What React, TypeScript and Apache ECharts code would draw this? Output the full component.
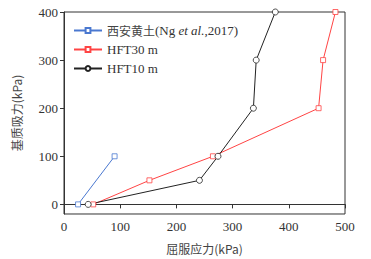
import React, { useEffect, useRef } from "react";
import * as echarts from "echarts";

const seriesNames = ["西安黄土(Ng et al.,2017)", "HFT30 m", "HFT10 m"];
const xianX = [25, 90];
const xianY = [0, 100];
const hft30X = [52, 152, 265, 453, 461, 483];
const hft30Y = [0, 50, 100, 200, 300, 400];
const hft10X = [43, 241, 274, 337, 342, 376];
const hft10Y = [0, 50, 100, 200, 300, 400];
const yTicks = [0, 100, 200, 300, 400];

const zip = (a: number[], b: number[]) => a.map((v, i) => [v, b[i]]);

export default function App() {
  const ref = useRef<HTMLDivElement>(null);
  useEffect(() => {
    document.body.style.margin = "0";
    const chart = echarts.init(ref.current!, undefined, { renderer: "svg" });
    const font = "Liberation Serif";
    const cjk = "Noto Sans CJK SC";
    chart.setOption({
      animation: false,
      textStyle: { fontFamily: font },
      grid: { left: 64, right: 26, top: 12, bottom: 41, show: true, borderColor: "#333", borderWidth: 1 },
      legend: {
        left: 68,
        top: 19,
        orient: "vertical",
        itemWidth: 28,
        itemHeight: 6,
        itemGap: 6,
        textStyle: {
          fontFamily: font,
          fontSize: 13,
          color: "#333",
          rich: {
            c: { fontFamily: cjk, fontSize: 12, color: "#444" },
            a: { fontFamily: font, fontSize: 13, color: "#333" },
            i: { fontFamily: font, fontSize: 13, color: "#333", fontStyle: "italic" },
          },
        },
        formatter: (n: string) =>
          n === seriesNames[0] ? "{c|西安黄土}{a|(Ng }{i|et al.}{a|,2017)}" : "{a|" + n + "}",
        data: seriesNames,
      },
      xAxis: {
        type: "value",
        min: 0,
        max: 500,
        interval: 100,
        name: "屈服应力(kPa)",
        nameLocation: "middle",
        nameGap: 28,
        nameTextStyle: { fontFamily: cjk, fontSize: 12, color: "#444" },
        axisLine: { show: true, lineStyle: { color: "#333" } },
        axisTick: { show: true, length: 4, lineStyle: { color: "#333" } },
        axisLabel: { fontFamily: font, fontSize: 13, color: "#333", margin: 6 },
        splitLine: { show: false },
      },
      yAxis: {
        type: "value",
        min: -20,
        max: 400,
        name: "基质吸力(kPa)",
        nameLocation: "middle",
        nameRotate: 90,
        nameGap: 42,
        nameTextStyle: { fontFamily: cjk, fontSize: 12, color: "#444" },
        axisLine: { show: true, lineStyle: { color: "#333" } },
        axisTick: { show: true, length: 4, lineStyle: { color: "#333" }, customValues: yTicks },
        axisLabel: { fontFamily: font, fontSize: 13, color: "#333", margin: 6, customValues: yTicks },
        splitLine: { show: false },
      },
      series: [
        {
          name: seriesNames[0],
          type: "line",
          data: zip(xianX, xianY),
          symbol: "rect",
          symbolSize: 5,
          lineStyle: { color: "#4a78d0", width: 1 },
          itemStyle: { color: "#fff", borderColor: "#4a78d0", borderWidth: 0.8 },
          color: "#4a78d0",
        },
        {
          name: seriesNames[1],
          type: "line",
          data: zip(hft30X, hft30Y),
          symbol: "rect",
          symbolSize: 5,
          lineStyle: { color: "#f44", width: 1 },
          itemStyle: { color: "#fff", borderColor: "#f44", borderWidth: 0.8 },
          color: "#f44",
        },
        {
          name: seriesNames[2],
          type: "line",
          data: zip(hft10X, hft10Y),
          symbol: "circle",
          symbolSize: 6,
          lineStyle: { color: "#222", width: 1 },
          itemStyle: { color: "#fff", borderColor: "#222", borderWidth: 0.8 },
          color: "#222",
        },
      ],
    });
    return () => chart.dispose();
  }, []);
  return <div ref={ref} style={{ width: 371, height: 259 }} />;
}
